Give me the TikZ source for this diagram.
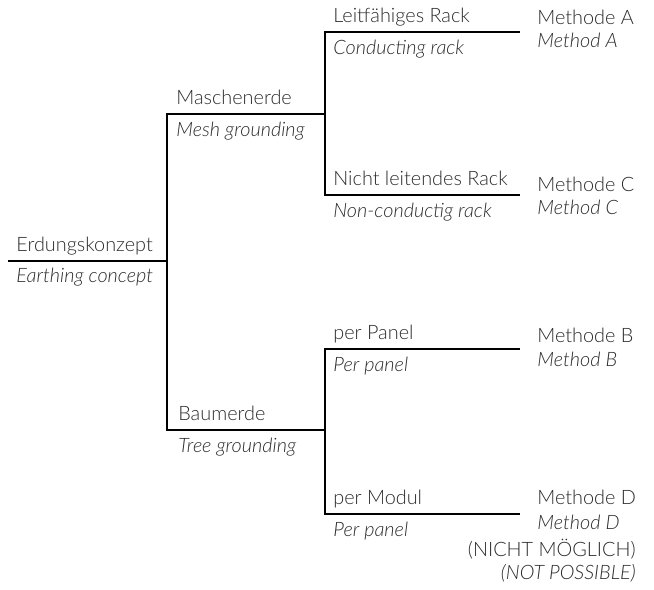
\documentclass[tikz,border=0pt]{standalone}
\usepackage{fontspec}
\setmainfont{Lato Light}[ItalicFont={Lato Light Italic}]
\definecolor{textgrau}{HTML}{2B2B2B}

\tikzset{
  ast/.style={line width=1.1pt, black},
  de/.style={anchor=base west, inner sep=0pt, text=textgrau, font=\fontsize{11.3}{14}\selectfont},
  en/.style={de, font=\fontsize{11.3}{14}\selectfont\itshape},
}

\begin{document}
\begin{tikzpicture}[x=0.02cm, y=-0.02cm]
      \useasboundingbox (0,0) rectangle (654,590);

        % Wurzel
        \coordinate (W0) at (8,261);
        \coordinate (W1) at (167,261);
        \node[de] (erd) at (16,252) {Erdungskonzept};
        \node[en] (earth) at (16,283) {Earthing concept};

        % Maschenerde
        \coordinate (M0) at (167,114);
        \coordinate (M1) at (325,114);
        \node[de] (masch) at (176,105) {Maschenerde};
        \node[en] (mesh) at (176,137) {Mesh grounding};

        % Baumerde
        \coordinate (B0) at (167,430);
        \coordinate (B1) at (325,430);
        \node[de] (baum) at (178,421) {Baumerde};
        \node[en] (tree) at (178,453) {Tree grounding};

        % Racks
        \coordinate (LR0) at (325,32);
        \coordinate (LR1) at (520,32);
        \node[de] (leit) at (333,23) {Leitfähiges Rack};
        \node[en] (cond) at (333,55) {Conducting rack};
        \coordinate (NR0) at (325,195);
        \coordinate (NR1) at (520,195);
        \node[de] (nicht) at (333,186) {Nicht leitendes Rack};
        \node[en] (noncond) at (333,218) {Non-conductig rack};

        % Panel / Modul
        \coordinate (PP0) at (325,349);
        \coordinate (PP1) at (520,349);
        \node[de] (panel) at (333,340) {per Panel};
        \node[en] (panelen) at (333,372) {Per panel};
        \coordinate (PM0) at (325,514);
        \coordinate (PM1) at (520,514);
        \node[de] (modul) at (333,505) {per Modul};
        \node[en] (modulen) at (333,537) {Per panel};

        % Methoden
        \node[de] (mA) at (537,25) {Methode A};
        \node[en] (mAen) at (537,48) {Method A};
        \node[de] (mC) at (537,192) {Methode C};
        \node[en] (mCen) at (537,215) {Method C};
        \node[de] (mB) at (537,343) {Methode B};
        \node[en] (mBen) at (537,367) {Method B};
        \node[de] (mD) at (537,505) {Methode D};
        \node[en] (mDen) at (537,530) {Method D};
        \node[de, anchor=base east] (nm) at (636,557) {(NICHT MÖGLICH)};
        \node[en, anchor=base east] (np) at (636,580) {(NOT POSSIBLE)};

        % Verbindungen
        \draw[ast] (W0) -- (W1);
        \draw[ast] (M1) -- (M0) -- (B0) -- (B1);
        \draw[ast] (LR1) -- (LR0) -- (NR0) -- (NR1);
        \draw[ast] (PP1) -- (PP0) -- (PM0) -- (PM1);

      \end{tikzpicture}
\end{document}
